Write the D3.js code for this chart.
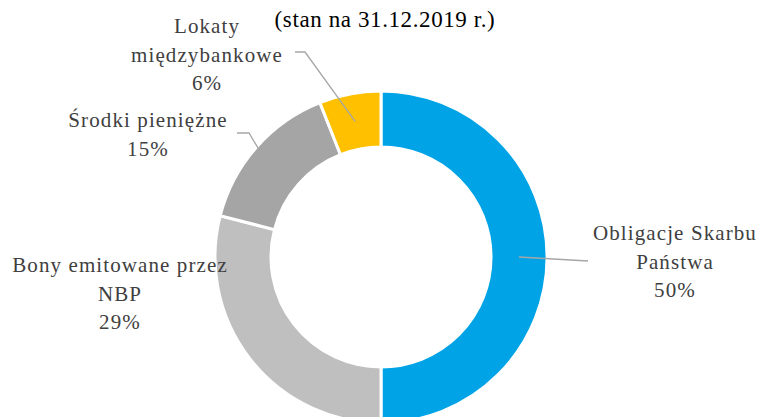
<!DOCTYPE html>
<html lang="pl">
<head>
<meta charset="UTF-8">
<script src="https://d3js.org/d3.v7.min.js"></script>
<style>
  body { margin:0; background:#fff; }
  svg text { font-family: "Liberation Serif", "DejaVu Serif", serif; }
  .label { fill:#404040; font-size:21px; letter-spacing:1.1px; }
  .title { fill:#000; font-size:23px; letter-spacing:0.6px; }
  .leader { fill:none; stroke:#a6a6a6; stroke-width:1.3px; }
</style>
</head>
<body>
<svg id="chart" width="760" height="417"></svg>
<script>
// data
const categories = ["Obligacje Skarbu Państwa", "Bony emitowane przez NBP", "Środki pieniężne", "Lokaty międzybankowe"];
const values = [50, 29, 15, 6];
const labelLines = [["Obligacje Skarbu", "Państwa"], ["Bony emitowane przez", "NBP"], ["Środki pieniężne"], ["Lokaty", "międzybankowe"]];
const colors = ["#00a3e6", "#bfbfbf", "#a5a5a5", "#ffc000"];
const subtitle = "(stan na 31.12.2019 r.)";

// layout of the data labels (x centre, first baseline) and leader elbows
const labelPos = [[675, 240], [120, 272], [148, 127], [207, 33]];
const leaders = [
  { from: [588, 261], elbow: null, r: 138 },
  null,
  { from: [237, 133], elbow: [249, 133], r: 163 },
  { from: [295, 52], elbow: [305, 52], r: 138 }
];

let svg = d3.select("#chart");
let cx = 381, cy = 257, outerR = 166, innerR = 110;
let g = svg.append("g").attr("transform", "translate(" + cx + "," + cy + ")");

let pie = d3.pie().sort(null).value(d => d);
let arcs = pie(values);
let arc = d3.arc().innerRadius(innerR).outerRadius(outerR);

g.selectAll("path.slice").data(arcs)
  .enter().append("path")
  .attr("class", "slice")
  .attr("d", arc)
  .style("fill", (d, i) => colors[i])
  .style("stroke", "#fff")
  .style("stroke-width", 3);

// leader lines
arcs.forEach(function(d, i) {
  let l = leaders[i];
  if (!l) return;
  let mid = (d.startAngle + d.endAngle) / 2;
  let end = [cx + l.r * Math.sin(mid), cy - l.r * Math.cos(mid)];
  let pts = [l.from];
  if (l.elbow) pts.push(l.elbow);
  pts.push(end);
  svg.append("path")
    .attr("class", "leader")
    .attr("d", d3.line()(pts));
});

// labels
let lineH = 28.5;
labelLines.forEach(function(lines, i) {
  let t = svg.append("text")
    .attr("class", "label")
    .attr("text-anchor", "middle")
    .attr("x", labelPos[i][0])
    .attr("y", labelPos[i][1]);
  lines.concat([values[i] + "%"]).forEach(function(s, j) {
    t.append("tspan")
      .attr("x", labelPos[i][0])
      .attr("dy", j == 0 ? 0 : lineH)
      .text(s);
  });
});

svg.append("text")
  .attr("class", "title")
  .attr("text-anchor", "middle")
  .attr("x", 385)
  .attr("y", 27)
  .text(subtitle);
</script>
</body>
</html>
